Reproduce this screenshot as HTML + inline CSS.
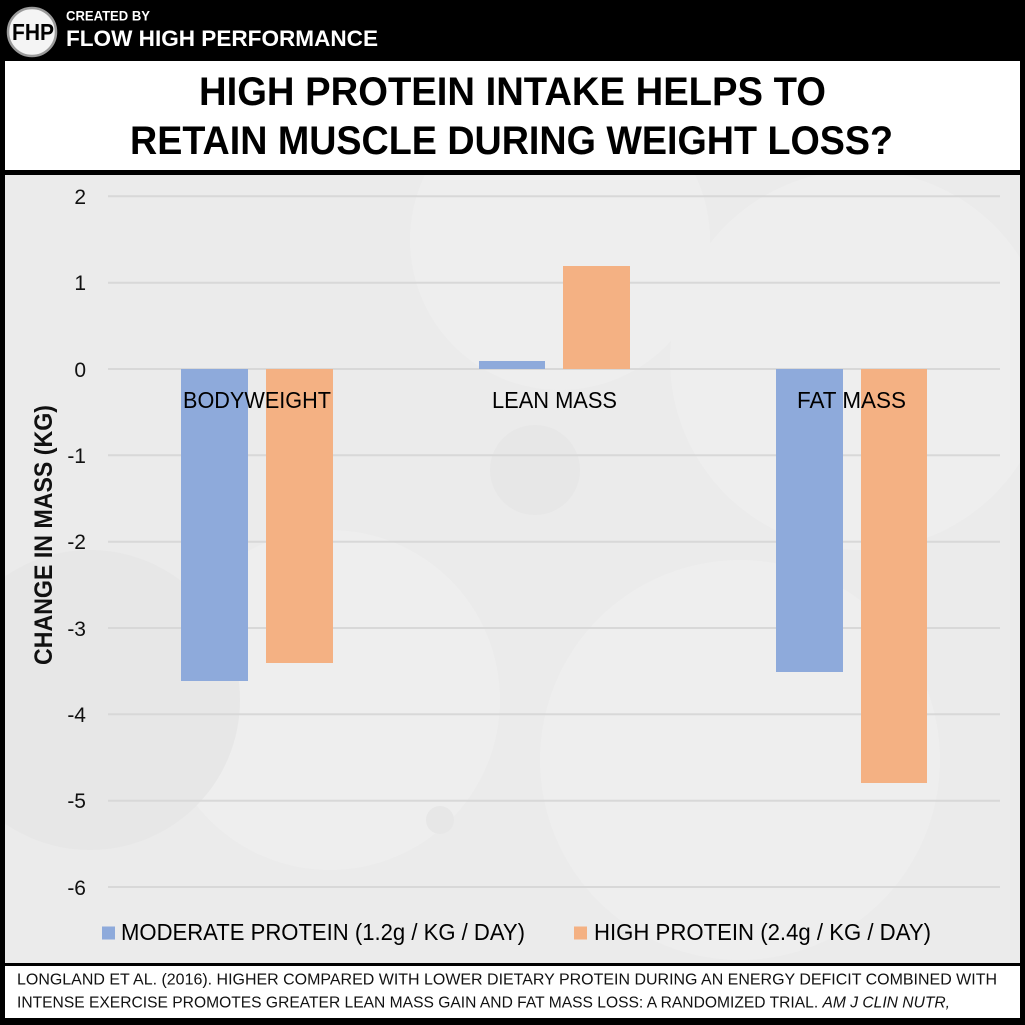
<!DOCTYPE html>
<html>
<head>
<meta charset="utf-8">
<style>
html,body{margin:0;padding:0;background:#000;}
svg{display:block;}
</style>
</head>
<body>
<svg width="1025" height="1025" viewBox="0 0 1025 1025" xmlns="http://www.w3.org/2000/svg" font-family="'Liberation Sans', Arial, sans-serif">
  <defs>
    <clipPath id="chartclip"><rect x="5" y="175" width="1015" height="788"/></clipPath>
  </defs>
  <rect x="0" y="0" width="1025" height="1025" fill="#000"/>

  <!-- Header -->
  <circle cx="32" cy="32" r="24" fill="#f4f4f4" stroke="#9a9a9a" stroke-width="2.5"/>
  <text x="33" y="40" text-anchor="middle" font-size="23" font-weight="bold" fill="#000" textLength="42" lengthAdjust="spacingAndGlyphs">FHP</text>
  <text x="66" y="20.5" font-size="14" font-weight="bold" fill="#fff" textLength="84" lengthAdjust="spacingAndGlyphs">CREATED BY</text>
  <text x="66" y="46" font-size="22" font-weight="bold" fill="#fff" textLength="312" lengthAdjust="spacingAndGlyphs">FLOW HIGH PERFORMANCE</text>

  <!-- Title box -->
  <rect x="5" y="61" width="1015" height="109" fill="#fff"/>
  <text x="512.5" y="105" text-anchor="middle" font-size="40" font-weight="bold" fill="#000" textLength="627" lengthAdjust="spacingAndGlyphs">HIGH PROTEIN INTAKE HELPS TO</text>
  <text x="511.5" y="154" text-anchor="middle" font-size="40" font-weight="bold" fill="#000" textLength="763" lengthAdjust="spacingAndGlyphs">RETAIN MUSCLE DURING WEIGHT LOSS?</text>

  <!-- Chart area -->
  <rect x="5" y="175" width="1015" height="788" fill="#ebebeb"/>
  <g clip-path="url(#chartclip)">
    <g fill="#eeeeee">
      <circle cx="560" cy="240" r="150"/>
      <circle cx="860" cy="360" r="190"/>
      <circle cx="330" cy="700" r="170"/>
      <circle cx="740" cy="760" r="200"/>
    </g>
    <g fill="#e7e7e7">
      <circle cx="535" cy="470" r="45"/>
      <circle cx="90" cy="700" r="150"/>
      <circle cx="440" cy="820" r="14"/>
    </g>
  </g>

  <!-- Gridlines -->
  <g stroke="#d8d8d8" stroke-width="2">
    <line x1="108" y1="196.3" x2="1000" y2="196.3"/>
    <line x1="108" y1="282.7" x2="1000" y2="282.7"/>
    <line x1="108" y1="369" x2="1000" y2="369"/>
    <line x1="108" y1="455.3" x2="1000" y2="455.3"/>
    <line x1="108" y1="541.7" x2="1000" y2="541.7"/>
    <line x1="108" y1="628" x2="1000" y2="628"/>
    <line x1="108" y1="714.3" x2="1000" y2="714.3"/>
    <line x1="108" y1="800.7" x2="1000" y2="800.7"/>
    <line x1="108" y1="887" x2="1000" y2="887"/>
  </g>

  <!-- Tick labels -->
  <g font-size="21" fill="#111" text-anchor="end">
    <text x="86" y="204">2</text>
    <text x="86" y="290">1</text>
    <text x="86" y="377">0</text>
    <text x="86" y="463">-1</text>
    <text x="86" y="549">-2</text>
    <text x="86" y="636">-3</text>
    <text x="86" y="722">-4</text>
    <text x="86" y="808">-5</text>
    <text x="86" y="895">-6</text>
  </g>

  <!-- Y axis title -->
  <text transform="translate(52,535) rotate(-90)" text-anchor="middle" font-size="25" font-weight="bold" fill="#111" textLength="260" lengthAdjust="spacingAndGlyphs">CHANGE IN MASS (KG)</text>

  <!-- Bars -->
  <g fill="#8eaadb">
    <rect x="181" y="369" width="67" height="312"/>
    <rect x="479" y="361" width="66" height="8"/>
    <rect x="776" y="369" width="67" height="303"/>
  </g>
  <g fill="#f4b183">
    <rect x="266" y="369" width="67" height="294"/>
    <rect x="563" y="266" width="67" height="103"/>
    <rect x="861" y="369" width="66" height="414"/>
  </g>

  <!-- Category labels -->
  <g font-size="23" fill="#000" text-anchor="middle">
    <text x="257" y="408" textLength="148" lengthAdjust="spacingAndGlyphs">BODYWEIGHT</text>
    <text x="554.5" y="408" textLength="125" lengthAdjust="spacingAndGlyphs">LEAN MASS</text>
    <text x="851.5" y="408" textLength="109" lengthAdjust="spacingAndGlyphs">FAT MASS</text>
  </g>

  <!-- Legend -->
  <rect x="102" y="926.5" width="13" height="13" fill="#8eaadb"/>
  <text x="121" y="940" font-size="23" fill="#000" textLength="404" lengthAdjust="spacingAndGlyphs">MODERATE PROTEIN (1.2g / KG / DAY)</text>
  <rect x="574" y="926.5" width="13" height="13" fill="#f4b183"/>
  <text x="594" y="940" font-size="23" fill="#000" textLength="337" lengthAdjust="spacingAndGlyphs">HIGH PROTEIN (2.4g / KG / DAY)</text>

  <!-- Footer -->
  <rect x="5" y="966" width="1015" height="52" fill="#fff"/>
  <text x="17" y="984.5" font-size="15.5" fill="#111" textLength="980" lengthAdjust="spacingAndGlyphs">LONGLAND ET AL. (2016). HIGHER COMPARED WITH LOWER DIETARY PROTEIN DURING AN ENERGY DEFICIT COMBINED WITH</text>
  <text x="17" y="1007.5" font-size="15.5" fill="#111" textLength="933" lengthAdjust="spacingAndGlyphs">INTENSE EXERCISE PROMOTES GREATER LEAN MASS GAIN AND FAT MASS LOSS: A RANDOMIZED TRIAL. <tspan font-style="italic">AM J CLIN NUTR,</tspan></text>
</svg>
</body>
</html>
